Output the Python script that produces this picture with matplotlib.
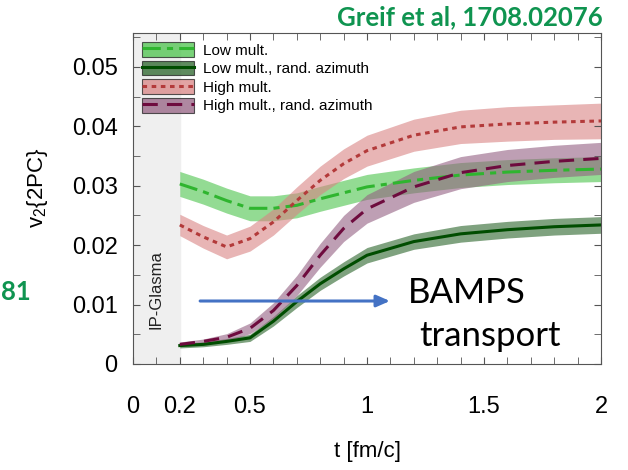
import numpy as np
import matplotlib
matplotlib.use('Agg')
import matplotlib.pyplot as plt
from matplotlib.patches import Patch
from matplotlib.lines import Line2D
from matplotlib.ticker import MultipleLocator, FixedLocator

plt.rcParams['font.family'] = ['Liberation Sans', 'DejaVu Sans']
plt.rcParams['mathtext.fontset'] = 'custom'
plt.rcParams['mathtext.rm'] = 'Liberation Sans'
plt.rcParams['mathtext.default'] = 'regular'

# time grid of the BAMPS runs [fm/c]
t = [0.2, 0.3, 0.4, 0.5, 0.6, 0.7, 0.8, 0.9, 1.0, 1.2, 1.4, 1.6, 1.8, 2.0]

low_mult = [0.0303, 0.0290, 0.0275, 0.0262, 0.0262, 0.0267, 0.0278, 0.0288,
            0.0298, 0.0309, 0.0318, 0.0323, 0.0326, 0.0328]
low_mult_err = [0.0021, 0.0021, 0.0021, 0.0021, 0.0021, 0.0021, 0.0021, 0.0021,
                0.0021, 0.0021, 0.0021, 0.0021, 0.0021, 0.0021]

low_rand = [0.0031, 0.0033, 0.0038, 0.0044, 0.0072, 0.0105, 0.0135, 0.0160,
            0.0183, 0.0206, 0.0219, 0.0226, 0.0231, 0.0234]
low_rand_err = [0.0004, 0.0004, 0.0005, 0.0006, 0.0008, 0.0010, 0.0011, 0.0012,
                0.0013, 0.0013, 0.0014, 0.0014, 0.0014, 0.0014]

high_mult = [0.0234, 0.0214, 0.0197, 0.0211, 0.0239, 0.0275, 0.0309, 0.0337,
             0.0359, 0.0385, 0.0399, 0.0404, 0.0407, 0.0409]
high_mult_err = [0.0018, 0.0019, 0.0020, 0.0021, 0.0022, 0.0023, 0.0024, 0.0025,
                 0.0026, 0.0027, 0.0028, 0.0029, 0.0029, 0.0030]

high_rand = [0.0033, 0.0038, 0.0045, 0.0060, 0.0090, 0.0132, 0.0183, 0.0228,
             0.0261, 0.0298, 0.0322, 0.0334, 0.0341, 0.0346]
high_rand_err = [0.0004, 0.0004, 0.0006, 0.0009, 0.0013, 0.0017, 0.0020, 0.0022,
                 0.0024, 0.0026, 0.0027, 0.0027, 0.0027, 0.0027]

labels = ['Low mult.', 'Low mult., rand. azimuth', 'High mult.', 'High mult., rand. azimuth']

series = [
    (low_mult, low_mult_err, '#2fb52f', '#4cc44c', (0, (6, 2, 2, 2))),
    (low_rand, low_rand_err, '#004d00', '#2a652a', '-'),
    (high_mult, high_mult_err, '#b33a3a', '#d98484', (0, (1.5, 1.5))),
    (high_rand, high_rand_err, '#6e0b3e', '#946082', (0, (5, 3))),
]

W, H = 628, 470
fig = plt.figure(figsize=(W / 100, H / 100), dpi=100)
ax = fig.add_axes([133 / W, 1 - 364 / H, (601 - 133) / W, (364 - 33) / H])

# initial-state region
ax.axvspan(0, 0.2, color='#efefef', zorder=0)
ax.text(0.1, 0.0125, 'IP-Glasma', rotation=90, ha='center', va='center',
        fontsize=12, color='#222222')

handles = []
for (y, err, lc, fc, ls), lab in zip(series, labels):
    y = np.array(y)
    err = np.array(err)
    ax.fill_between(t, y - err, y + err, color=fc, alpha=0.6, lw=0)
    ax.plot(t, y, color=lc, ls=ls, lw=2.2)
    handles.append((Patch(facecolor=fc, edgecolor='#222222', alpha=0.75, lw=0.8),
                    Line2D([], [], color=lc, ls=ls, lw=2.2)))

leg = ax.legend(handles, labels, loc='upper left', frameon=False, fontsize=11,
                handlelength=3.4, handleheight=1.1, labelspacing=0.2,
                borderaxespad=0.2, handletextpad=0.6)

ax.set_xlim(0, 2)
ax.set_ylim(0, 0.0557)
ax.xaxis.set_major_locator(FixedLocator([0, 0.2, 0.5, 1, 1.5, 2]))
ax.set_xticklabels(['0', '0.2', '0.5', '1', '1.5', '2'])
ax.xaxis.set_minor_locator(MultipleLocator(0.1))
ax.yaxis.set_major_locator(FixedLocator([0, 0.01, 0.02, 0.03, 0.04, 0.05]))
ax.set_yticklabels(['0', '0.01', '0.02', '0.03', '0.04', '0.05'])
ax.yaxis.set_minor_locator(MultipleLocator(0.005))
ax.tick_params(which='both', direction='in', top=True, right=True,
               color='#555555', labelsize=17, length=5)
ax.tick_params(axis='x', which='major', pad=23)
ax.tick_params(axis='y', which='major', pad=11)
for s in ax.spines.values():
    s.set_color('#555555')

# arrow marking the start of transport
ax.annotate('', xy=(1.11, 0.0106), xytext=(0.275, 0.0106),
            arrowprops=dict(arrowstyle='-|>,head_length=0.8,head_width=0.35',
                            color='#4472c4', lw=2.2))


def px(x, y):
    return x / W, 1 - y / H


fig.text(*px(368, 452), 't [fm/c]', ha='center', va='center', fontsize=16)
fig.text(*px(38, 188), 'v$_2${2PC}', ha='center', va='center', rotation=90, fontsize=16)
fig.text(*px(467, 293), 'BAMPS', ha='center', va='center', fontsize=25, family='Lato')
fig.text(*px(490, 336), 'transport', ha='center', va='center', fontsize=25, family='Lato')
fig.text(*px(603, 17), 'Greif et al, 1708.02076', ha='right', va='center',
         fontsize=18.5, family='Lato', weight='bold', color='#0f9450')
fig.text(*px(1, 292), '81', ha='left', va='center',
         fontsize=18.5, family='Lato', weight='bold', color='#0f9450')

fig.savefig('out.png', dpi=100)
